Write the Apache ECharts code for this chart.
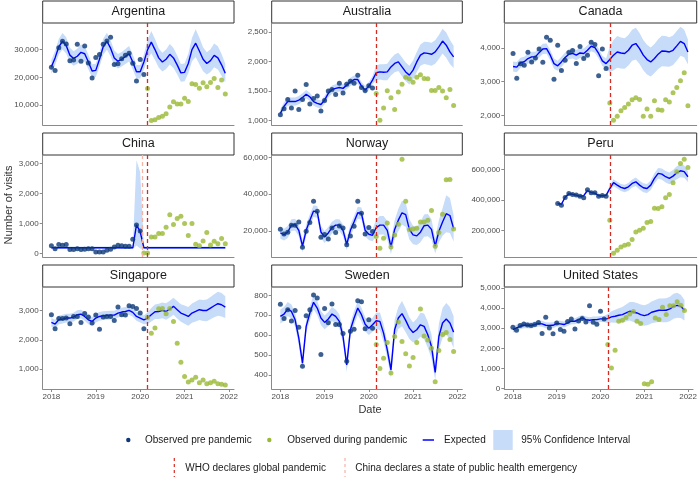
<!DOCTYPE html>
<html>
<head>
<meta charset="utf-8">
<script src="https://cdn.jsdelivr.net/npm/echarts@6/dist/echarts.min.js"></script>
<style>
html, body { margin: 0; padding: 0; background: #fff; }
#chart { width: 700px; height: 477px; }
</style>
</head>
<body>
<div id="chart"></div>
<script>
// monthly data Jan 2018 - Dec 2021 (48 months); pandemic starts Mar 2020 (Feb 2020 for China)
const xTicks = [2018, 2019, 2020, 2021, 2022];

const argPre = [23650,22450,30700,33000,32000,26000,26200,31900,25800,31300,25200,19800,27100,28200,31900,33100,34400,24600,24850,26650,28000,28700,25100,18700,26400,21000];
const argDuring = [16000,4400,4700,5500,6000,6900,9300,11200,10400,10400,12500,11300,17700,17400,16100,18000,16600,18100,19600,16350,19000,14000];
const argExp = [23800,27000,31000,33000,31500,28000,26800,27600,29000,28500,25500,22300,
  22500,26500,31000,33000,30500,27000,25800,26500,27500,28500,25500,22000,
  22000,25500,30000,32700,30000,27000,25500,26500,28300,27000,24500,21600,
  21800,25000,30000,32300,29500,26500,25000,26000,27900,27000,24500,21500];
const argLo = [21300,24400,28200,30000,28600,25300,24200,24900,26200,25700,22900,19900,
  20100,23900,28100,29900,27600,24300,23200,23900,24800,25700,22800,19600,
  19600,22800,26500,28700,26200,23500,22100,23000,24600,23400,21100,18400,
  18600,21500,25800,27300,24700,22200,21000,21900,23600,22800,20600,18100];
const argHi = [26300,29600,33800,36000,34400,30700,29400,30300,31800,31300,28100,24700,
  24900,29100,33900,36100,33400,29700,28400,29100,30200,31300,28200,24400,
  24400,28200,33500,36700,33800,30500,28900,30000,32000,30600,27900,24800,
  25000,28500,34200,37300,34300,30800,29000,30100,32200,31200,28400,24900];
const argTicks = [10000, 20000, 30000];

const ausPre = [1096,1198,1357,1209,1498,1187,1357,1611,1277,1373,1413,1158,1340,1498,1526,1441,1634,1464,1617,1668,1634,1770,1560,1509,1589,1549];
const ausDuring = [1458,1000,1209,1504,1385,1187,1481,1617,1736,1707,1651,1736,1775,1713,1707,1509,1509,1560,1498,1385,1526,1255];
const ausExp = [1120,1240,1320,1320,1320,1345,1390,1445,1400,1320,1290,1270,
  1345,1460,1525,1545,1560,1545,1600,1655,1695,1695,1585,1515,
  1585,1685,1810,1825,1820,1825,1910,1970,1995,1910,1825,1770,
  1855,1995,2110,2150,2140,2125,2165,2250,2350,2280,2165,2080];
const ausLo = [1050,1170,1250,1250,1250,1275,1320,1375,1330,1250,1220,1200,
  1275,1390,1455,1475,1490,1475,1530,1585,1625,1625,1515,1445,
  1515,1615,1685,1695,1685,1685,1765,1820,1840,1750,1665,1610,
  1690,1825,1930,1960,1945,1930,1965,2045,2140,2065,1960,1890];
const ausHi = [1190,1310,1390,1390,1390,1415,1460,1515,1470,1390,1360,1340,
  1415,1530,1595,1615,1630,1615,1670,1725,1765,1765,1655,1585,
  1655,1755,1935,1955,1955,1965,2055,2120,2150,2070,1985,1930,
  2020,2165,2290,2340,2335,2320,2365,2455,2560,2495,2370,2270];
const ausTicks = [1000, 1500, 2000, 2500];

const canPre = [3833,3103,3527,3488,3872,3586,3704,3970,3576,4315,4227,3074,4079,3330,3635,3862,3921,3537,4039,3685,3783,4167,4099,3172,3970,3389];
const canDuring = [2365,1852,1970,2138,2236,2335,2463,2522,2473,1970,2187,1970,2433,2167,2148,2463,2394,2670,2828,3025,3261,2286];
const canExp = [3450,3430,3560,3590,3685,3735,3735,3860,3970,3980,3785,3535,
  3470,3585,3715,3815,3835,3785,3850,3835,3930,4050,4010,3835,
  3615,3535,3655,3785,3880,3850,3835,3930,4080,4130,3980,3785,
  3655,3585,3685,3815,3910,3900,3880,3930,4060,4195,4130,3880];
const canLo = [3300,3280,3410,3440,3535,3585,3585,3710,3820,3830,3635,3385,
  3320,3435,3565,3665,3685,3635,3700,3685,3780,3900,3860,3685,
  3465,3385,3275,3335,3410,3390,3385,3480,3620,3660,3520,3335,
  3215,3155,3255,3375,3460,3450,3440,3490,3620,3765,3720,3510];
const canHi = [3600,3580,3710,3740,3835,3885,3885,4010,4120,4130,3935,3685,
  3620,3735,3865,3965,3985,3935,4000,3985,4080,4200,4160,3985,
  3765,3685,4035,4235,4350,4310,4285,4380,4540,4600,4440,4235,
  4095,4015,4115,4255,4360,4350,4320,4370,4500,4625,4540,4250];
const canTicks = [2000, 3000, 4000];

const chnPre = [256,156,290,268,290,123,123,156,123,134,156,156,45,45,45,100,134,212,268,256,234,234,468,948,747];
const chnDuring = [11,11,546,546,658,658,870,1282,959,1160,1238,993,591,993,301,256,413,691,279,401,323,491,323];
const chnExp = [185,185,185,185,185,185,185,185,185,185,185,185,
  185,185,185,185,185,185,185,185,185,185,185,950,
  720,185,185,185,185,185,185,185,185,185,185,185,
  185,185,185,185,185,185,185,185,185,185,185,185];
const chnLo = [145,145,145,145,145,145,145,145,145,145,145,145,
  145,145,145,145,145,145,145,145,145,145,145,260,
  160,145,145,145,145,145,145,145,145,145,145,145,
  145,145,145,145,145,145,145,145,145,145,145,145];
const chnHi = [225,225,225,225,225,225,225,225,225,225,225,225,
  225,225,225,225,225,225,225,225,225,225,225,3100,
  2700,225,225,225,225,225,225,225,225,225,225,225,
  225,225,225,225,225,225,225,225,225,225,225,225];
const chnTicks = [0, 1000, 2000, 3000];

const norPre = [21100,18550,19450,23250,23250,25050,11300,20000,24700,36300,30850,16750,18200,15850,21800,19300,22900,21800,12750,17450,22700,36300,29750,18550,22000,19800];
const norDuring = [17100,10750,16200,24500,11500,18000,23800,58900,36300,20900,21250,21650,25050,25050,25950,31200,11850,19300,29250,47850,48050,21250];
const norExp = [19100,18200,19600,23300,23600,20500,11900,20500,26000,30900,30500,19600,
  16900,19100,22000,23300,23300,20500,12900,20500,25100,30000,29600,20500,
  18400,17800,22000,23300,23300,20500,11500,21000,26000,30000,29000,21000,
  18000,17500,19500,23000,23300,21000,12000,20000,25000,29500,28500,21500];
const norLo = [15900,15000,16400,20100,20400,17300,8700,17300,22800,27700,27300,16400,
  13700,15900,18800,20100,20100,17300,9700,17300,21900,26800,26400,17300,
  15200,14600,17500,18300,18300,15500,7700,16000,20000,23500,22500,15500,
  13000,12500,14000,17000,17300,15500,8000,14000,17500,19500,19000,14500];
const norHi = [22300,21400,22800,26500,26800,23700,15100,23700,29200,34100,33700,22800,
  20100,22300,25200,26500,26500,23700,16100,23700,28300,33200,32800,23700,
  21600,21000,26500,28300,28300,25500,15300,26000,32000,36500,35500,26500,
  23000,22500,25000,29000,29300,26500,16000,26000,32500,39500,38000,28500];
const norTicks = [20000, 40000, 60000];

const peruPre = [null,null,null,null,null,null,null,null,null,null,null,null,
  377000,366000,416000,443000,436000,432000,425000,414000,467000,447000,447000,425000,430000,425000];
const peruDuring = [268000,51000,71000,93000,104000,110000,141000,191000,202000,215000,252000,259000,346000,344000,355000,414000,436000,513000,585000,639000,666000,613000];
const peruExp = [null,null,null,null,null,null,null,null,null,null,null,null,
  377000,372000,418000,440000,437000,432000,424000,428000,462000,448000,445000,428000,
  428000,430000,475000,513000,497000,482000,475000,486000,508000,519000,497000,480000,
  475000,497000,541000,574000,569000,552000,541000,556000,578000,591000,585000,552000];
const peruLo = [null,null,null,null,null,null,null,null,null,null,null,null,
  371000,366000,412000,434000,431000,426000,418000,422000,456000,442000,439000,422000,
  422000,424000,455000,491000,475000,459000,451000,461000,482000,491000,469000,451000,
  445000,466000,508000,539000,533000,515000,503000,516000,535000,548000,545000,517000];
const peruHi = [null,null,null,null,null,null,null,null,null,null,null,null,
  383000,378000,424000,446000,443000,438000,430000,434000,468000,454000,451000,434000,
  434000,436000,495000,535000,519000,505000,499000,511000,534000,547000,525000,509000,
  505000,528000,574000,609000,605000,589000,579000,596000,621000,634000,625000,587000];
const peruTicks = [200000, 400000, 600000];

const sgpPre = [2863,2383,2737,2737,2749,2554,2806,2806,2600,2909,2783,2577,2851,2371,2783,2806,2806,2669,3126,2863,2851,3171,3149,3080,2920,2383];
const sgpDuring = [2771,2234,2406,3069,3080,2897,3080,2634,1891,1240,749,566,634,726,543,634,509,543,589,509,486,463];
const sgpExp = [2600,2545,2690,2715,2750,2750,2785,2865,2885,2805,2690,2635,
  2750,2805,2830,2840,2850,2850,2920,2955,2975,3010,2945,2805,
  2750,2690,2750,2865,2965,2975,3010,2975,3055,3150,3035,2920,
  2865,2805,2920,2975,3035,3010,3010,3090,3170,3240,3205,3125];
const sgpLo = [2450,2395,2540,2565,2600,2600,2635,2715,2735,2655,2540,2485,
  2600,2655,2680,2690,2700,2700,2770,2805,2825,2860,2795,2655,
  2600,2540,2550,2635,2715,2715,2740,2695,2765,2860,2735,2620,
  2555,2485,2590,2635,2685,2650,2640,2710,2780,2830,2805,2755];
const sgpHi = [2750,2695,2840,2865,2900,2900,2935,3015,3035,2955,2840,2785,
  2900,2955,2980,2990,3000,3000,3070,3105,3125,3160,3095,2955,
  2900,2840,2950,3095,3215,3235,3280,3255,3345,3440,3335,3220,
  3175,3125,3250,3315,3385,3370,3380,3470,3560,3650,3605,3495];
const sgpTicks = [1000, 2000, 3000];

const swePre = [755,684,728,671,724,639,444,697,728,802,787,503,734,662,756,654,654,608,469,620,630,773,768,632,677,635];
const sweDuring = [553,432,484,563,410,593,666,568,506,445,487,563,731,595,575,534,366,523,603,613,578,518];
const sweExp = [694,706,731,719,677,585,459,644,711,765,736,686,
  664,681,706,694,669,593,450,627,686,736,703,655,
  635,652,672,669,610,526,425,627,686,708,674,635,
  613,627,652,644,602,543,412,593,661,681,661,615];
const sweLo = [659,671,696,684,642,550,424,609,676,730,701,651,
  629,646,671,659,634,558,415,592,651,701,668,620,
  600,617,632,624,565,486,385,577,631,645,614,580,
  563,572,592,579,537,483,374,528,586,601,581,535];
const sweHi = [729,741,766,754,712,620,494,679,746,800,771,721,
  699,716,741,729,704,628,485,662,721,771,738,690,
  670,687,712,714,655,566,465,677,741,771,734,690,
  663,682,712,709,667,603,450,658,736,761,741,695];
const sweTicks = [400, 500, 600, 700, 800];

const usaPre = [3053,2904,3135,3218,3168,3135,3185,3284,2739,3548,3020,2723,3267,2937,2855,3333,3465,2970,3366,3482,3317,4125,3300,3201,3845,3465];
const usaDuring = [2195,1023,1914,3350,3399,3531,3713,3828,3350,3234,248,215,347,3515,3432,4043,3680,4125,4125,4323,4142,3878];
const usaExp = [2940,3020,3100,3150,3150,3135,3185,3235,3220,3150,3135,3150,
  3235,3220,3185,3265,3350,3350,3430,3515,3430,3400,3430,3430,
  3465,3465,3480,3565,3600,3645,3680,3760,3845,3810,3760,3680,
  3630,3680,3795,3845,3895,3895,3895,3960,4090,4140,4090,3895];
const usaLo = [2790,2870,2950,3000,3000,2985,3035,3085,3070,3000,2985,3000,
  3085,3070,3035,3115,3200,3200,3280,3365,3280,3250,3280,3280,
  3315,3315,3250,3285,3280,3295,3300,3340,3385,3310,3260,3180,
  3120,3160,3255,3285,3315,3305,3295,3350,3470,3520,3510,3385];
const usaHi = [3090,3170,3250,3300,3300,3285,3335,3385,3370,3300,3285,3300,
  3385,3370,3335,3415,3500,3500,3580,3665,3580,3550,3580,3580,
  3615,3615,3710,3845,3920,3995,4060,4180,4305,4310,4260,4180,
  4140,4200,4335,4405,4475,4485,4495,4570,4710,4760,4670,4405];
const usaTicks = [0, 1000, 2000, 3000, 4000, 5000];

const panels = [
  { name: 'Argentina', pre: argPre, during: argDuring, exp: argExp, lo: argLo, hi: argHi, start: 26, yMin: 2814, yMax: 39580, ticks: argTicks },
  { name: 'Australia', pre: ausPre, during: ausDuring, exp: ausExp, lo: ausLo, hi: ausHi, start: 26, yMin: 921, yMax: 2658, ticks: ausTicks },
  { name: 'Canada', pre: canPre, during: canDuring, exp: canExp, lo: canLo, hi: canHi, start: 26, yMin: 1714, yMax: 4739, ticks: canTicks },
  { name: 'China', pre: chnPre, during: chnDuring, exp: chnExp, lo: chnLo, hi: chnHi, start: 25, yMin: -123, yMax: 3279, ticks: chnTicks, china: true },
  { name: 'Norway', pre: norPre, during: norDuring, exp: norExp, lo: norLo, hi: norHi, start: 26, yMin: 6064, yMax: 61267, ticks: norTicks },
  { name: 'Peru', pre: peruPre, during: peruDuring, exp: peruExp, lo: peruLo, hi: peruHi, start: 26, yMin: 27300, yMax: 694000, ticks: peruTicks },
  { name: 'Singapore', pre: sgpPre, during: sgpDuring, exp: sgpExp, lo: sgpLo, hi: sgpHi, start: 26, yMin: 326, yMax: 3811, ticks: sgpTicks },
  { name: 'Sweden', pre: swePre, during: sweDuring, exp: sweExp, lo: sweLo, hi: sweHi, start: 26, yMin: 329, yMax: 842, ticks: sweTicks },
  { name: 'United States', pre: usaPre, during: usaDuring, exp: usaExp, lo: usaLo, hi: usaHi, start: 26, yMin: -15, yMax: 5050, ticks: usaTicks }
];

// decimal year of each month
const decYear = [];
for (let y = 2018; y < 2022; y++) for (let m = 0; m < 12; m++) decYear.push(y + m / 12);

const FONT = '"Liberation Sans", Arial, sans-serif';
const colLeft = [42.7, 271.7, 504.3];
const colWidth = [191.3, 190.6, 192.4];
const rowTop = [23, 155, 287];
const plotH = 102, stripH = 22;
const whoDate = 2020.175, chinaDate = 2020.05;
const cPre = '#0c3877', cDuring = '#9ab935', cExp = '#0000ff', cBand = '#c6dcf8';
const cWho = '#d62b22', cChina = '#f6b3a4', cAxis = '#8a8a8a';

const fmt = v => v.toLocaleString('en-US');
const pairs = (vals, offset) => vals.map((v, j) => [decYear[offset + j], v]).filter(d => d[1] != null);

const grid = [], xAxis = [], yAxis = [], series = [], graphic = [];

panels.forEach((p, k) => {
  const r = Math.floor(k / 3), c = k % 3;
  grid.push({ left: colLeft[c], top: rowTop[r], width: colWidth[c], height: plotH });
  xAxis.push({
    type: 'value', gridIndex: k, min: 2017.804, max: 2022.113,
    splitLine: { show: false },
    axisLine: { onZero: false, lineStyle: { color: cAxis, width: 1 } },
    axisTick: { show: r === 2, length: 3, customValues: xTicks, lineStyle: { color: cAxis } },
    axisLabel: { show: r === 2, customValues: xTicks, margin: 4, fontSize: 8, color: '#4d4d4d', fontFamily: FONT, formatter: v => String(v) }
  });
  yAxis.push({
    type: 'value', gridIndex: k, min: p.yMin, max: p.yMax,
    splitLine: { show: false },
    axisLine: { show: true, onZero: false, lineStyle: { color: cAxis, width: 1 } },
    axisTick: { show: true, length: 3, customValues: p.ticks, lineStyle: { color: cAxis } },
    axisLabel: { customValues: p.ticks, margin: 4, fontSize: 8, color: '#4d4d4d', fontFamily: FONT, formatter: fmt }
  });

  // 95% confidence band as one polygon, placed through the axes
  const band = p.lo.map((v, i) => [decYear[i], v, p.hi[i]]).filter(d => d[1] != null);
  series.push({
    type: 'custom', xAxisIndex: k, yAxisIndex: k, data: band, clip: true, silent: true, z: 1,
    encode: { x: 0, y: [1, 2] },
    renderItem: (params, api) => {
      if (params.dataIndex !== 0) return;
      const upper = band.map(d => api.coord([d[0], d[2]]));
      const lower = band.map(d => api.coord([d[0], d[1]])).reverse();
      return { type: 'polygon', shape: { points: upper.concat(lower) }, style: { fill: cBand } };
    }
  });

  const vlines = [];
  if (p.china) vlines.push({ xAxis: chinaDate, lineStyle: { color: cChina } });
  vlines.push({ xAxis: whoDate, lineStyle: { color: cWho } });
  series.push({
    type: 'line', xAxisIndex: k, yAxisIndex: k, data: pairs(p.exp, 0),
    symbol: 'none', lineStyle: { color: cExp, width: 1.4 }, z: 2,
    markLine: {
      symbol: 'none', silent: true, label: { show: false },
      lineStyle: { type: [4, 3], width: 1.3 }, data: vlines
    }
  });
  series.push({
    type: 'scatter', xAxisIndex: k, yAxisIndex: k, data: pairs(p.pre, 0),
    symbolSize: 5, itemStyle: { color: cPre }, z: 3
  });
  series.push({
    type: 'scatter', xAxisIndex: k, yAxisIndex: k, data: pairs(p.during, p.start),
    symbolSize: 5, itemStyle: { color: cDuring }, z: 3
  });

  // facet strip
  graphic.push({
    type: 'rect', shape: { x: colLeft[c], y: rowTop[r] - stripH, width: colWidth[c], height: stripH },
    style: { fill: '#fff', stroke: '#333', lineWidth: 1 }
  });
  graphic.push({
    type: 'text', x: colLeft[c] + colWidth[c] / 2, y: rowTop[r] - stripH / 2,
    style: { text: p.name, fontSize: 12.5, fontFamily: FONT, fill: '#1a1a1a', align: 'center', verticalAlign: 'middle' }
  });
});

// axis titles
graphic.push({
  type: 'text', x: 370, y: 410,
  style: { text: 'Date', fontSize: 11, fontFamily: FONT, fill: '#333', align: 'center', verticalAlign: 'middle' }
});
graphic.push({
  type: 'text', x: 9, y: 205, rotation: Math.PI / 2,
  style: { text: 'Number of visits', fontSize: 11, fontFamily: FONT, fill: '#333', align: 'center', verticalAlign: 'middle' }
});

// legend
const legTxt = (x, y, t) => ({
  type: 'text', x: x, y: y,
  style: { text: t, fontSize: 10, fontFamily: FONT, fill: '#1a1a1a', align: 'left', verticalAlign: 'middle' }
});
graphic.push({ type: 'circle', shape: { cx: 128.3, cy: 440, r: 2.2 }, style: { fill: cPre } });
graphic.push(legTxt(145, 440, 'Observed pre pandemic'));
graphic.push({ type: 'circle', shape: { cx: 269.3, cy: 440, r: 2.2 }, style: { fill: cDuring } });
graphic.push(legTxt(287.3, 440, 'Observed during pandemic'));
graphic.push({ type: 'line', shape: { x1: 422.7, y1: 440, x2: 434, y2: 440 }, style: { stroke: cExp, lineWidth: 1.5 } });
graphic.push(legTxt(444, 440, 'Expected'));
graphic.push({ type: 'rect', shape: { x: 493.3, y: 430, width: 19.4, height: 20 }, style: { fill: cBand } });
graphic.push(legTxt(521.3, 440, '95% Confidence Interval'));
graphic.push({ type: 'line', shape: { x1: 174.3, y1: 458, x2: 174.3, y2: 478 }, style: { stroke: cWho, lineWidth: 1.2, lineDash: [3, 3] } });
graphic.push(legTxt(185.3, 468, 'WHO declares global pandemic'));
graphic.push({ type: 'line', shape: { x1: 345, y1: 458, x2: 345, y2: 478 }, style: { stroke: cChina, lineWidth: 1.2, lineDash: [3, 3] } });
graphic.push(legTxt(355.3, 468, 'China declares a state of public health emergency'));

const myChart = echarts.init(document.getElementById('chart'), null, { renderer: 'canvas' });
myChart.setOption({
  animation: false,
  backgroundColor: '#fff',
  grid: grid,
  xAxis: xAxis,
  yAxis: yAxis,
  series: series,
  graphic: graphic
});
</script>
</body>
</html>
